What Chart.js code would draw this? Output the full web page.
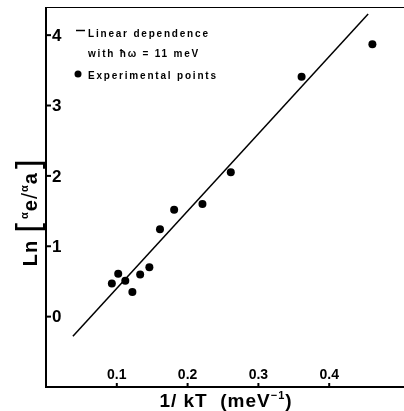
<!DOCTYPE html>
<html>
<head>
<meta charset="utf-8">
<script src="https://cdn.jsdelivr.net/npm/chart.js@4"></script>
<style>
  html, body { margin: 0; padding: 0; background: #fff; }
  #wrap { width: 404px; height: 411px; }
</style>
</head>
<body>
<div id="wrap"><canvas id="myChart" width="404" height="411"></canvas></div>
<script>
// experimental points
var exp_x = [0.093, 0.102, 0.112, 0.122, 0.133, 0.146, 0.161, 0.181, 0.221, 0.261, 0.361, 0.461];
var exp_y = [0.47, 0.61, 0.51, 0.35, 0.60, 0.70, 1.24, 1.52, 1.60, 2.05, 3.41, 3.87];

// fitted line end points
var fit_x = [0.038, 0.455];
var fit_y = [-0.28, 4.30];

var x_ticks = [0.1, 0.2, 0.3, 0.4];
var y_ticks = [0, 1, 2, 3, 4];

var legend_lines = ['Linear dependence', 'with \u0127\u03c9 = 11 meV', 'Experimental points'];

var fam = '"Liberation Sans", Arial, sans-serif';

var ctx = document.getElementById('myChart').getContext('2d');

function pairs(xs, ys) {
    let out = [];
    for (let i = 0; i < xs.length; i++) {
        out.push({ x: xs[i], y: ys[i] });
    }
    return out;
}

// draws frame, ticks, labels, legend and titles
var decor = {
    id: 'decor',
    afterDraw(chart) {
        let c = chart.ctx;
        let a = chart.chartArea;
        let sx = chart.scales.x;
        let sy = chart.scales.y;

        c.save();
        c.strokeStyle = '#000';
        c.fillStyle = '#000';

        // axes
        c.lineWidth = 2;
        c.beginPath();
        c.moveTo(a.left, a.top);
        c.lineTo(a.left, a.bottom);
        c.lineTo(404, a.bottom);
        c.stroke();
        c.lineWidth = 1;
        c.beginPath();
        c.moveTo(a.left, a.top + 0.5);
        c.lineTo(404, a.top + 0.5);
        c.stroke();

        // y ticks inside
        c.font = 'bold 17px ' + fam;
        c.textAlign = 'left';
        c.textBaseline = 'middle';
        y_ticks.forEach(v => {
            let py = sy.getPixelForValue(v);
            c.lineWidth = 2;
            c.beginPath();
            c.moveTo(a.left, py);
            c.lineTo(a.left + 5, py);
            c.stroke();
            c.fillText(String(v), a.left + 6, py + 1);
        });

        // x ticks inside
        c.font = 'bold 14px ' + fam;
        c.textAlign = 'center';
        c.textBaseline = 'alphabetic';
        x_ticks.forEach(v => {
            let px = sx.getPixelForValue(v);
            c.lineWidth = 2;
            c.beginPath();
            c.moveTo(px, a.bottom);
            c.lineTo(px, a.bottom - 4);
            c.stroke();
            c.fillText(v.toFixed(1), px, a.bottom - 8);
        });

        // legend
        c.font = 'bold 10px ' + fam;
        c.textAlign = 'left';
        c.letterSpacing = '1.8px';
        c.lineWidth = 1.5;
        c.beginPath();
        c.moveTo(76, 30.5);
        c.lineTo(85, 30.5);
        c.stroke();
        c.fillText(legend_lines[0], 88, 37);
        c.fillText(legend_lines[1], 88, 57);
        c.beginPath();
        c.arc(78, 74, 3.5, 0, Math.PI * 2);
        c.fill();
        c.fillText(legend_lines[2], 88, 79);

        // x title
        c.letterSpacing = '1px';
        let parts = [
            { t: '1/ kT  (meV', f: 'bold 19px ' + fam, dy: 0 },
            { t: '\u2212', f: 'bold 11px ' + fam, dy: -8 },
            { t: '1', f: 'bold 11px ' + fam, dy: -8 },
            { t: ')', f: 'bold 19px ' + fam, dy: 0 }
        ];
        draw_parts(c, parts, 226, 407);

        // y title, rotated
        c.save();
        c.translate(37, 212);
        c.rotate(-Math.PI / 2);
        let yparts = [
            { t: 'Ln ', f: 'bold 20px ' + fam, dy: 0 },
            { t: '[', f: '34px "DejaVu Sans", sans-serif', dy: 4 },
            { t: '\u03b1', f: 'bold 11px ' + fam, dy: -9 },
            { t: 'e', f: 'bold 20px ' + fam, dy: 0 },
            { t: '/', f: '22px ' + fam, dy: 0 },
            { t: '\u03b1', f: 'bold 11px ' + fam, dy: -9 },
            { t: 'a', f: 'bold 20px ' + fam, dy: 0 },
            { t: ']', f: '34px "DejaVu Sans", sans-serif', dy: 4 }
        ];
        draw_parts(c, yparts, 0, 0);
        c.restore();

        c.letterSpacing = '0px';
        c.restore();
    }
};

function draw_parts(c, parts, cx, base) {
    let total = 0;
    parts.forEach(p => {
        c.font = p.f;
        total += c.measureText(p.t).width;
    });
    let x = cx - total / 2;
    c.textAlign = 'left';
    c.textBaseline = 'alphabetic';
    parts.forEach(p => {
        c.font = p.f;
        c.fillText(p.t, x, base + p.dy);
        x += c.measureText(p.t).width;
    });
}

var myChart = new Chart(ctx, {
    type: 'scatter',
    data: {
        datasets: [{
            label: 'Linear dependence',
            type: 'line',
            data: pairs(fit_x, fit_y),
            borderColor: '#000',
            borderWidth: 1.5,
            pointRadius: 0,
            fill: false
        }, {
            label: 'Experimental points',
            data: pairs(exp_x, exp_y),
            backgroundColor: '#000',
            borderColor: '#000',
            pointRadius: 4,
            borderWidth: 0
        }]
    },
    options: {
        responsive: false,
        animation: false,
        layout: { padding: { left: 46, top: 7, right: 0, bottom: 24 } },
        plugins: { legend: { display: false }, tooltip: { enabled: false } },
        scales: {
            x: {
                type: 'linear', min: 0, max: 0.5,
                display: true,
                grid: { display: false },
                border: { display: false },
                ticks: { display: false },
                afterFit: s => { s.height = 0; }
            },
            y: {
                type: 'linear', min: -1, max: 4.4,
                display: true,
                grid: { display: false },
                border: { display: false },
                ticks: { display: false },
                afterFit: s => { s.width = 0; }
            }
        }
    },
    plugins: [decor]
});
</script>
</body>
</html>
